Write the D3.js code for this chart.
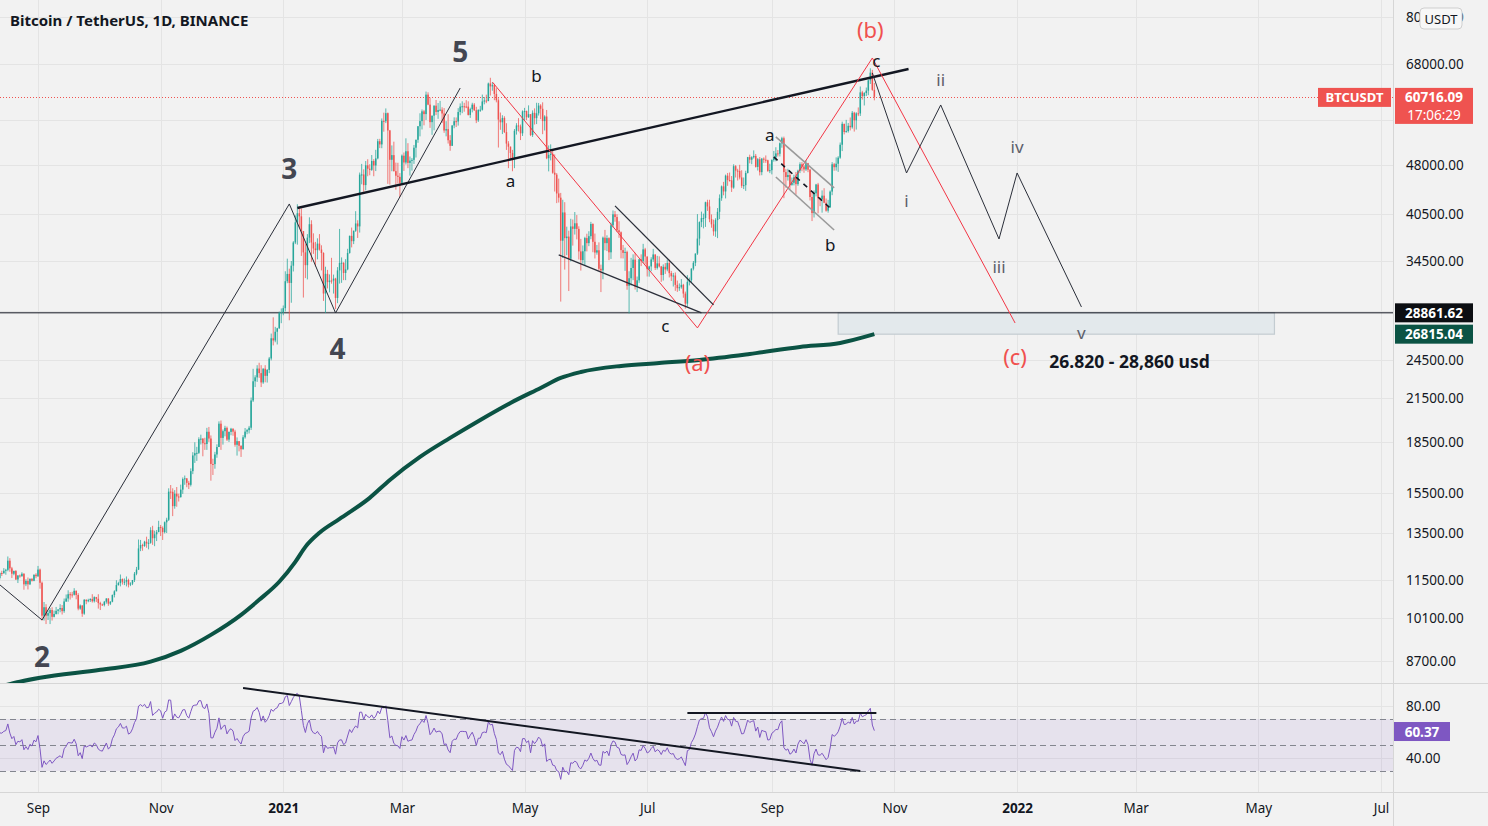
<!DOCTYPE html>
<html><head><meta charset="utf-8">
<script src="https://cdn.jsdelivr.net/npm/d3@7"></script>
<style>
html,body{margin:0;padding:0;background:#f2f2f2;overflow:hidden;}
svg{display:block;font-family:"Noto Sans",sans-serif;}
</style></head><body>
<svg id="chart" width="1488" height="826"></svg>
<script>
// ---------------- DATA (prices in thousands of USDT) ----------------
const title = "Bitcoin / TetherUS, 1D, BINANCE";
const firstDay = "2020-08-12";
const warmupCloses = [11.03,11.10,10.91,11.10,11.11,11.35,11.80,11.07,11.23,11.19,11.75,11.77,11.60,11.75,11.68,11.88,11.40];
const closes = [
 11.58,11.78,11.77,11.87,11.91,12.29,11.97,11.75,11.86,11.52,11.68,11.65,11.75,11.33,11.46,11.33,11.54,11.47,11.71,11.65,
 11.92,11.39,10.17,10.47,10.17,10.26,10.37,10.13,10.23,10.34,10.39,10.44,10.33,10.68,10.79,10.95,10.94,10.93,11.08,10.92,10.42,10.53,10.24,10.74,10.69,10.73,10.77,10.69,10.84,10.78,
 10.62,10.57,10.55,10.67,10.79,10.60,10.67,10.92,11.06,11.30,11.38,11.54,11.43,11.43,11.50,11.32,11.36,11.50,11.75,11.92,12.82,12.97,12.93,13.12,13.04,13.07,13.65,13.28,13.46,13.56,13.80,
 13.76,13.56,14.03,14.15,15.59,15.58,14.83,15.48,15.33,15.30,15.70,16.28,16.32,16.07,15.96,16.73,17.66,17.80,17.82,18.68,18.71,18.42,18.37,19.16,18.72,17.15,17.14,17.72,18.18,19.70,
 18.76,19.20,19.42,18.65,19.15,19.36,19.17,18.32,18.55,18.26,18.04,18.80,19.17,19.27,19.43,21.34,22.80,23.11,23.82,23.45,22.71,23.81,23.23,23.71,24.66,26.44,26.24,27.04,27.36,28.86,28.92,
 29.33,32.18,33.00,31.99,33.95,36.77,39.41,40.67,40.24,38.24,35.54,34.01,37.39,39.16,36.77,36.02,35.82,36.63,35.89,35.47,30.85,33.01,32.08,32.26,32.25,32.47,30.38,33.40,34.27,34.30,33.11,
 33.52,35.47,37.62,36.94,38.29,39.26,38.87,46.45,46.48,44.81,47.97,47.41,47.23,48.69,47.94,49.13,52.12,51.55,55.91,55.84,57.41,54.09,48.89,49.68,47.02,46.28,46.10,45.14,
 49.59,48.44,50.35,48.37,48.75,48.88,50.97,52.38,54.88,55.86,57.77,57.22,61.19,59.12,55.66,56.91,58.91,57.65,58.03,58.10,57.35,54.08,54.34,52.30,51.30,55.03,55.84,55.78,57.63,58.73,58.79,
 58.74,58.72,57.06,58.20,59.12,57.99,56.00,58.06,58.09,59.77,59.96,59.84,63.58,62.96,63.22,61.34,60.01,56.15,55.63,56.47,53.79,51.70,51.15,50.05,49.00,54.02,55.03,54.83,53.56,57.75,
 57.83,56.61,57.21,53.24,57.47,56.43,57.38,58.93,58.28,55.86,56.75,49.15,49.72,49.88,46.76,46.45,43.54,42.91,37.00,40.78,37.33,37.53,34.77,38.86,38.54,39.29,38.53,35.66,34.61,35.68,37.34,
 36.69,37.58,39.19,36.86,35.52,35.80,33.59,33.40,37.39,36.69,37.33,35.55,39.02,40.52,40.14,38.35,38.09,35.82,35.48,35.60,31.68,32.51,33.68,34.66,31.59,32.28,34.70,34.49,35.91,35.04,
 33.54,33.86,34.69,35.29,33.69,34.22,33.86,32.88,33.82,33.51,34.26,33.09,32.73,32.82,31.78,31.42,31.52,31.78,30.84,29.79,32.11,32.29,33.60,34.29,35.40,37.27,39.45,39.99,40.01,42.24,41.63,
 39.85,39.15,38.21,39.72,40.87,42.83,44.61,43.84,46.29,45.60,45.55,44.43,47.83,47.10,47.05,46.00,44.70,44.80,46.72,49.34,48.91,49.32,49.55,47.71,48.99,46.85,49.08,48.90,48.81,47.05,47.17,
 48.85,49.29,49.98,49.92,51.76,52.66,46.86,46.07,46.40,44.85,45.17,46.03,44.96,47.09,48.15,47.77,47.30,48.31,47.25,43.01,40.69,43.56,44.90,42.84,42.70,43.21,42.17,41.03,41.52,43.82,
 48.14,47.66,48.23,49.25,51.49,55.34,53.80,53.97,54.96,54.69,57.49,56.01,57.37,57.35,61.67,60.88,61.53,62.04,64.28,66.00,62.21,60.71609
];
const highs = [
 11.68,11.80,11.87,11.98,11.95,12.47,12.40,12.03,11.88,11.90,11.69,11.72,11.81,11.77,11.53,11.60,11.57,11.58,11.72,11.77,
 12.07,11.96,11.44,10.66,10.58,10.35,10.44,10.47,10.35,10.48,10.40,10.58,10.55,10.79,10.94,11.10,11.03,11.04,11.18,11.09,10.99,10.57,10.55,10.77,10.76,10.78,10.80,10.95,10.87,10.85,
 10.95,10.67,10.60,10.70,10.80,10.80,10.69,10.94,11.10,11.49,11.43,11.72,11.56,11.56,11.64,11.55,11.41,11.49,11.82,12.03,13.22,13.20,13.03,13.16,13.35,13.24,13.79,13.86,13.63,13.66,14.10,
 13.90,13.83,14.07,14.25,15.77,15.95,15.77,15.67,15.84,15.48,15.97,16.37,16.48,16.33,16.18,16.89,17.86,18.48,18.19,18.80,18.97,18.75,18.77,19.42,19.48,18.92,17.46,17.88,18.35,19.86,
 19.92,19.31,19.56,19.51,19.18,19.42,19.39,19.29,18.79,18.56,18.28,18.94,19.41,19.35,19.55,21.56,23.80,23.28,24.10,24.30,24.10,23.84,24.10,23.78,24.79,26.87,28.42,27.50,27.41,28.99,29.30,
 29.60,33.30,34.78,33.60,34.50,36.94,40.37,41.95,41.38,41.35,38.26,36.63,37.85,40.10,39.70,37.95,36.85,37.30,37.85,36.42,35.55,33.83,33.46,32.94,34.88,32.92,32.56,33.78,38.53,34.93,34.34,
 34.72,35.98,37.66,38.71,38.31,40.96,39.70,46.79,48.20,47.31,48.68,48.98,48.15,49.70,49.00,50.60,52.53,52.55,56.37,57.50,58.35,57.53,54.18,51.37,52.04,48.42,48.39,46.70,
 49.79,50.13,52.64,51.77,49.45,49.20,51.45,52.40,54.90,57.39,58.15,58.06,61.84,61.68,60.60,56.94,58.97,60.07,59.45,59.88,58.59,58.42,55.84,57.20,53.23,55.07,56.59,56.56,58.40,59.37,59.80,
 59.49,60.04,59.80,58.50,59.50,59.44,58.68,58.17,58.87,61.20,60.70,61.18,63.78,64.85,63.82,63.52,62.57,60.43,57.53,57.00,56.80,55.45,52.13,51.17,50.59,54.35,55.46,56.43,55.20,57.96,
 58.46,57.92,58.97,57.20,57.96,58.36,59.50,59.46,59.21,59.59,57.00,58.04,51.37,51.56,50.70,49.80,46.70,45.82,43.62,42.60,42.25,38.83,38.30,39.90,39.80,40.84,40.42,38.88,37.23,36.40,37.50,
 37.90,38.23,39.48,39.29,37.92,36.46,36.79,34.07,37.53,38.40,37.69,37.44,39.39,41.06,40.98,40.53,39.56,38.20,36.46,36.12,35.75,33.30,34.88,35.30,35.50,32.70,34.75,35.30,36.60,36.10,
 35.04,33.94,34.95,35.97,35.29,35.12,35.06,33.92,34.10,34.26,34.67,34.65,33.34,33.11,33.17,32.25,31.94,32.42,31.89,31.05,32.86,32.58,33.65,34.50,35.40,40.55,39.54,40.90,40.62,42.32,42.60,
 42.60,40.50,39.78,39.97,41.40,43.39,44.75,45.31,46.46,46.72,46.79,46.23,48.14,48.00,47.40,48.05,47.16,46.00,47.08,49.38,49.76,49.50,50.50,49.88,49.18,49.35,49.20,49.30,49.63,48.91,48.23,
 48.97,50.40,51.05,50.56,51.90,52.92,52.95,47.34,47.40,47.04,45.99,46.45,46.88,47.25,48.47,48.50,48.00,48.80,48.37,47.36,43.64,44.00,45.00,45.15,42.97,44.00,44.33,42.79,42.59,44.00,
 48.50,48.36,49.30,49.50,51.89,55.75,55.34,56.10,55.50,56.56,57.84,57.68,57.60,58.55,62.93,62.00,61.72,62.70,64.49,67.00,66.64,63.70
];
const lows = [
 11.15,11.52,11.66,11.75,11.71,11.85,11.83,11.58,11.69,11.50,11.38,11.59,11.63,11.12,11.26,11.13,11.30,11.44,11.45,11.57,
 11.62,11.16,10.00,10.00,9.88,10.02,9.88,10.00,10.11,10.21,10.22,10.29,10.21,10.27,10.66,10.67,10.75,10.82,10.90,10.76,10.36,10.38,10.13,10.20,10.58,10.65,10.66,10.64,10.64,10.66,
 10.42,10.37,10.52,10.50,10.60,10.52,10.55,10.65,10.83,11.10,11.28,11.25,11.32,11.30,11.25,11.21,11.26,11.30,11.42,11.69,11.90,12.70,12.72,12.89,12.85,12.78,13.03,12.98,12.92,13.15,13.61,
 13.38,13.20,13.50,13.52,14.09,15.20,14.33,14.70,14.80,15.07,15.27,15.47,15.96,15.83,15.73,15.87,16.56,17.21,17.33,17.75,18.34,17.61,18.00,18.00,18.50,16.19,16.51,16.87,17.52,18.18,
 18.00,18.33,18.86,18.56,18.50,18.93,18.90,18.20,17.65,17.91,17.57,18.03,18.71,19.00,19.05,19.28,21.23,22.35,22.75,23.07,22.35,22.60,22.72,22.70,23.45,24.50,25.80,26.08,25.88,27.32,27.85,
 28.62,29.00,31.96,28.13,29.88,33.28,36.57,36.50,38.72,35.11,30.42,32.53,32.38,36.70,34.41,35.36,33.85,34.70,35.76,33.40,30.07,28.85,31.39,30.97,31.91,30.84,29.24,29.84,31.92,32.00,32.30,
 32.30,33.42,35.38,36.16,36.57,38.14,37.35,38.05,44.93,43.80,44.02,46.20,46.35,47.05,46.20,47.03,48.97,50.90,50.88,53.86,55.48,45.00,44.89,47.00,46.94,44.11,45.04,43.00,
 45.00,47.05,48.10,47.50,46.30,47.10,48.20,49.27,51.83,53.00,54.27,55.05,56.08,59.00,54.57,53.27,54.12,57.03,56.30,57.80,55.50,53.65,53.00,51.70,50.43,51.28,54.50,54.73,55.00,57.00,57.40,
 57.70,58.40,56.95,56.48,57.56,57.84,55.47,55.70,57.66,57.92,59.18,59.43,59.84,61.00,62.02,60.03,59.59,51.00,54.21,53.42,53.61,50.58,47.50,49.07,47.00,47.50,53.32,53.90,52.33,53.07,
 56.04,56.04,56.48,53.05,52.90,55.20,55.29,56.94,56.24,53.40,54.08,48.99,46.98,48.79,46.60,43.83,42.11,42.20,30.00,34.86,33.49,35.20,31.11,34.45,36.38,37.79,37.17,34.68,33.38,34.20,34.00,
 35.66,36.31,37.19,35.56,34.80,35.26,33.34,31.00,32.40,35.80,35.70,34.60,34.75,38.73,39.50,38.12,37.37,34.82,34.80,33.35,31.25,28.80,31.70,32.30,31.27,31.00,32.00,33.90,34.26,34.10,
 32.71,32.69,33.31,34.40,33.45,33.50,33.74,32.11,32.26,33.00,33.30,32.60,32.21,31.60,31.13,31.02,31.13,31.36,30.40,29.28,29.48,31.72,32.00,33.40,33.90,35.23,36.40,38.77,38.60,38.80,41.00,
 39.43,38.69,37.64,37.50,37.33,39.86,42.45,43.26,42.80,44.70,45.35,43.77,44.25,46.00,45.52,45.70,44.38,44.20,43.93,46.64,48.30,48.15,49.10,47.60,47.12,46.32,46.36,48.37,48.38,46.90,46.70,
 46.50,48.58,48.63,49.45,49.45,50.97,42.84,44.41,45.51,44.13,44.71,44.76,43.37,44.70,46.70,47.00,46.75,47.05,46.85,42.50,39.59,40.08,43.10,40.66,41.67,40.75,42.10,40.89,40.75,41.42,
 43.28,47.08,47.10,46.90,49.06,50.38,53.36,53.68,53.69,54.09,54.42,53.88,54.25,56.82,56.85,60.15,58.95,60.90,61.08,63.48,62.00,60.00
];
// long moving average, thousands
const maDates = ["2020-08-12","2020-08-23","2020-09-02","2020-10-02","2020-10-27","2020-11-11","2020-11-26","2020-12-11","2020-12-20","2020-12-30","2021-01-07","2021-01-12","2021-01-19","2021-01-29","2021-02-13","2021-02-23","2021-03-10","2021-03-25","2021-04-09","2021-04-24","2021-05-09","2021-05-19","2021-05-29","2021-06-18","2021-07-07","2021-07-27","2021-08-21","2021-09-15","2021-10-05","2021-10-22"];
const maValues = [7.95,8.10,8.21,8.44,8.68,9.01,9.52,10.20,10.74,11.43,12.24,12.89,13.53,14.19,15.26,16.23,17.57,18.76,19.96,21.16,22.28,23.06,23.54,24.04,24.28,24.54,25.05,25.66,26.02,26.81504];

const priceGridTicks = [80000,68000,56000,48000,40500,34500,29000,24500,21500,18500,15500,13500,11500,10100,8700];
const priceLabelTicks = [80000,68000,48000,40500,34500,24500,21500,18500,15500,13500,11500,10100,8700];
const rsiTicks = [80,40];
const rsiLevels = [70,50,30];
const timeTickDates = ["2020-09-01","2020-11-01","2021-01-01","2021-03-01","2021-05-01","2021-07-01","2021-09-01","2021-11-01","2022-01-01","2022-03-01","2022-05-01","2022-07-01"];
const timeTickLabels = ["Sep","Nov","2021","Mar","May","Jul","Sep","Nov","2022","Mar","May","Jul"];

const lastPrice = 60716.09;
const countdown = "17:06:29";
const supportLevel = 28861.62;
const maLast = 26815.04;
const rsiLast = 60.37;

// drawings: [date, price in USDT]
const waveLine = [["2020-08-13",11310],["2020-09-03",10020],["2021-01-04",41990],["2021-01-27",28850],["2021-03-30",62600]];
const trendLine = [["2021-01-08",41410],["2021-11-08",66840]];
const redPath = [["2021-04-15",63900],["2021-07-26",27400],["2021-10-21",69420],["2021-12-31",27870]];
const projPath = [["2021-10-21",65930],["2021-11-07",46720],["2021-11-24",59050],["2021-12-23",37220],["2022-01-01",46720],["2022-02-02",29450]];
const wedgeUpper = [["2021-06-15",41710],["2021-08-03",29660]];
const wedgeLower = [["2021-05-18",35230],["2021-07-28",28850]];
const channelUpper = [["2021-09-03",52890],["2021-10-02",44370]];
const channelLower = [["2021-09-03",46080],["2021-10-02",38390]];
const channelMid = [["2021-09-02",49370],["2021-09-30",41410]];
const targetZone = [["2021-10-04",26815.04],["2022-05-09",28861.62]];
const rsiDown = [["2020-12-12",93.8],["2021-10-15",30]];
const rsiFlat = [["2021-07-21",74.6],["2021-10-23",74.6]];

const waveNums = [["2020-09-03",8850,"2"],["2021-01-04",47530,"3"],["2021-01-28",25570,"4"],["2021-03-30",71110,"5"]];
const letters = [["2021-05-07",65250,"b"],["2021-04-24",45450,"a"],["2021-07-10",27590,"c"],["2021-08-31",53430,"a"],["2021-09-30",36580,"b"],["2021-10-23",68710,"c"]];
const redLabels = [["2021-10-20",76710,"(b)"],["2021-07-26",24370,"(a)"],["2021-12-31",24880,"(c)"]];
const romans = [["2021-11-07",42430,"i"],["2021-11-24",64360,"ii"],["2021-12-23",33800,"iii"],["2022-01-01",51100,"iv"],["2022-02-02",26930,"v"]];
const zoneText = [["2022-01-17",24450,"26.820 - 28,860 usd"]];

// ---------------- CHART ----------------
const W=1488,H=826, axisX=1393, paneBottom=683, rsiTop=684, rsiBottom=792;
const parse = d3.utcParse("%Y-%m-%d");
const svg = d3.select("#chart");
const x = d3.scaleUtc().domain([parse("2020-09-01"), parse("2022-07-01")]).range([38,1381]);
const y = d3.scaleLog().domain([8700,68000]).range([661,64]);
const yR = d3.scaleLinear().domain([40,80]).range([758,706]);
const INK="#131722", BG="#f2f2f2", GRID="#e4e4e4", UP="#26a69a", DN="#ef5350";

const defs = svg.append("defs");
defs.append("clipPath").attr("id","clipP").append("rect").attr("x",0).attr("y",0).attr("width",axisX).attr("height",paneBottom);
defs.append("clipPath").attr("id","clipR").append("rect").attr("x",0).attr("y",rsiTop).attr("width",axisX).attr("height",rsiBottom-rsiTop);

svg.append("rect").attr("width",W).attr("height",H).attr("fill",BG);

const gP = svg.append("g").attr("clip-path","url(#clipP)");
const gR = svg.append("g").attr("clip-path","url(#clipR)");

// grid
gP.selectAll("line.hg").data(priceGridTicks).join("line").attr("class","hg")
  .attr("x1",0).attr("x2",axisX).attr("y1",d=>Math.round(y(d))+0.5).attr("y2",d=>Math.round(y(d))+0.5).attr("stroke",GRID);
[gP,gR].forEach(g=>g.selectAll("line.vg").data(timeTickDates).join("line").attr("class","vg")
  .attr("x1",d=>Math.round(x(parse(d)))+0.5).attr("x2",d=>Math.round(x(parse(d)))+0.5)
  .attr("y1",0).attr("y2",H).attr("stroke",GRID));
gR.selectAll("line.rg").data(rsiTicks).join("line").attr("class","rg")
  .attr("x1",0).attr("x2",axisX).attr("y1",d=>Math.round(yR(d))+0.5).attr("y2",d=>Math.round(yR(d))+0.5).attr("stroke",GRID);

// target zone
gP.append("rect")
  .attr("x",x(parse(targetZone[0][0]))).attr("y",y(targetZone[1][1]))
  .attr("width",x(parse(targetZone[1][0]))-x(parse(targetZone[0][0])))
  .attr("height",y(targetZone[0][1])-y(targetZone[1][1]))
  .attr("fill","#e3e9ec").attr("stroke","#c3ccd1").attr("stroke-width",1.2);

// horizontal support line
gP.append("line").attr("x1",0).attr("x2",axisX).attr("y1",y(supportLevel)).attr("y2",y(supportLevel)).attr("stroke",INK).attr("stroke-width",1);

// current price dotted line
gP.append("line").attr("x1",0).attr("x2",axisX).attr("y1",Math.round(y(lastPrice))+0.5).attr("y2",Math.round(y(lastPrice))+0.5)
  .attr("stroke",DN).attr("stroke-width",1).attr("stroke-dasharray","1,2");

// candles
const day0 = parse(firstDay);
const candles = closes.map((c,i)=>{
  const o = i===0 ? warmupCloses[warmupCloses.length-1] : closes[i-1];
  const hi = Math.max(highs[i],o,c), lo = Math.min(lows[i],o,c);
  return {date:d3.utcDay.offset(day0,i), o:o*1000, c:c*1000, h:hi*1000, l:lo*1000};
});
const cg = gP.append("g");
cg.selectAll("line.wick").data(candles).join("line").attr("class","wick")
  .attr("x1",d=>x(d.date)).attr("x2",d=>x(d.date)).attr("y1",d=>y(d.h)).attr("y2",d=>y(d.l))
  .attr("stroke",d=>d.c>=d.o?UP:DN).attr("stroke-width",0.9).attr("stroke-opacity",0.85);
cg.selectAll("rect.body").data(candles).join("rect").attr("class","body")
  .attr("x",d=>x(d.date)-0.75).attr("width",1.5)
  .attr("y",d=>y(Math.max(d.o,d.c))).attr("height",d=>Math.max(1,Math.abs(y(d.o)-y(d.c))))
  .attr("fill",d=>d.c>=d.o?UP:DN);

// moving average
const maPts = maDates.map((d,i)=>[parse(d), maValues[i]*1000]);
gP.append("path").datum(maPts)
  .attr("d", d3.line().x(d=>x(d[0])).y(d=>y(d[1])).curve(d3.curveMonotoneX))
  .attr("fill","none").attr("stroke","#0b5344").attr("stroke-width",4);

// drawings
const pline = d3.line().x(d=>x(parse(d[0]))).y(d=>y(d[1]));
function draw(g, data, stroke, w, dash){
  const p = g.append("path").datum(data).attr("d",pline).attr("fill","none").attr("stroke",stroke).attr("stroke-width",w).attr("stroke-linejoin","miter");
  if(dash) p.attr("stroke-dasharray",dash);
}
draw(gP, waveLine, "#2a2e39", 1);
draw(gP, trendLine, INK, 2.4);
draw(gP, redPath, "#f23645", 1);
draw(gP, projPath, "#2a2e39", 1);
draw(gP, wedgeUpper, "#2a2e39", 1.3);
draw(gP, wedgeLower, "#2a2e39", 1.3);
draw(gP, channelUpper, "#9a9a9a", 1.6);
draw(gP, channelLower, "#9a9a9a", 1.6);
draw(gP, channelMid, INK, 1.6, "5,5");

// labels
function labels(data, size, weight, fill, anchor){
  gP.append("g").selectAll("text").data(data).join("text")
    .attr("x",d=>x(parse(d[0]))).attr("y",d=>y(d[1]))
    .attr("text-anchor",anchor||"middle").attr("dominant-baseline","central")
    .attr("font-size",size).attr("font-weight",weight).attr("fill",fill).text(d=>d[2]);
}
labels(waveNums, 28, 700, "#434651");
labels(letters, 17, 400, INK);
labels(redLabels, 22, 400, "#f0514f");
labels(romans, 17, 400, "#5d606b");
labels(zoneText, 17.5, 700, INK, "start");

// RSI
const allC = warmupCloses.concat(closes);
const rsi = new Array(allC.length).fill(null);
const N=14; let ag=0, al=0;
for(let i=1;i<allC.length;i++){
  const ch = allC[i]-allC[i-1], g = Math.max(ch,0), l = Math.max(-ch,0);
  if(i<=N){ ag+=g/N; al+=l/N; if(i===N) rsi[i]=100-100/(1+ag/al); }
  else { ag=(ag*(N-1)+g)/N; al=(al*(N-1)+l)/N; rsi[i]=100-100/(1+ag/al); }
}
const rsiPts = candles.map((d,i)=>[d.date, rsi[i+warmupCloses.length]]).filter(d=>d[1]!==null);
gR.append("rect").attr("x",0).attr("width",axisX).attr("y",yR(70)).attr("height",yR(30)-yR(70)).attr("fill","rgba(126,87,194,0.1)");
gR.selectAll("line.lvl").data(rsiLevels).join("line").attr("class","lvl")
  .attr("x1",0).attr("x2",axisX).attr("y1",d=>Math.round(yR(d))+0.5).attr("y2",d=>Math.round(yR(d))+0.5)
  .attr("stroke","#83868f").attr("stroke-dasharray","6,4");
gR.append("path").datum(rsiPts).attr("d",d3.line().x(d=>x(d[0])).y(d=>yR(d[1])))
  .attr("fill","none").attr("stroke","#7e57c2").attr("stroke-width",1);
const rline = d3.line().x(d=>x(parse(d[0]))).y(d=>yR(d[1]));
[rsiDown,rsiFlat].forEach(dat=>gR.append("path").datum(dat).attr("d",rline).attr("fill","none").attr("stroke",INK).attr("stroke-width",2));

// pane separators
svg.append("line").attr("x1",0).attr("x2",W).attr("y1",paneBottom+0.5).attr("y2",paneBottom+0.5).attr("stroke","#d6d6d6");
svg.append("line").attr("x1",0).attr("x2",W).attr("y1",rsiBottom+0.5).attr("y2",rsiBottom+0.5).attr("stroke","#d6d6d6");
svg.append("line").attr("x1",axisX+0.5).attr("x2",axisX+0.5).attr("y1",0).attr("y2",H).attr("stroke","#d6d6d6");

// axes
const axP = svg.append("g").attr("transform",`translate(${axisX},0)`)
  .call(d3.axisRight(y).tickValues(priceLabelTicks).tickFormat(d3.format(".2f")).tickSize(0).tickPadding(13));
const axR = svg.append("g").attr("transform",`translate(${axisX},0)`)
  .call(d3.axisRight(yR).tickValues(rsiTicks).tickFormat(d3.format(".2f")).tickSize(0).tickPadding(13));
const axT = svg.append("g").attr("transform",`translate(0,${rsiBottom})`)
  .call(d3.axisBottom(x).tickValues(timeTickDates.map(parse)).tickFormat((d,i)=>timeTickLabels[i]).tickSize(0).tickPadding(11));
[axP,axR,axT].forEach(a=>{a.select(".domain").remove(); a.selectAll("text").attr("fill",INK).attr("font-family","Noto Sans").attr("font-size",13.5);});
axT.selectAll("text").attr("font-weight",(d,i)=>/^\d{4}$/.test(timeTickLabels[i])?700:400);

// title
svg.append("text").attr("x",10).attr("y",20).attr("dominant-baseline","central")
  .attr("font-size",15).attr("font-weight",700).attr("fill",INK).text(title);

// badges
function badge(x0, yc, w, h, fill, lines, fs){
  const g = svg.append("g");
  g.append("rect").attr("x",x0).attr("y",yc-h/2).attr("width",w).attr("height",h).attr("fill",fill);
  lines.forEach((t,i)=>g.append("text").attr("x",x0+w/2).attr("y",yc-h/2+9.5+i*18).attr("text-anchor","middle")
    .attr("dominant-baseline","central").attr("fill","#fff").attr("font-size",fs||13.5).attr("font-weight",i===0?700:400).text(t));
}
const yl = y(lastPrice);
badge(1318, yl+0.5, 73, 19, "#ef5350", ["BTCUSDT"], 13);
badge(1395, yl+9, 78, 36, "#ef5350", [d3.format(".2f")(lastPrice), countdown]);
badge(1395, y(supportLevel), 78, 19, "#0c0e12", [d3.format(".2f")(supportLevel)]);
badge(1395, y(maLast), 78, 19, "#0b5344", [d3.format(".2f")(maLast)]);
badge(1394, yR(rsiLast), 56, 19, "#7e57c2", [d3.format(".2f")(rsiLast)]);

// currency badge (covers part of the top price label, as in the original)
svg.append("rect").attr("x",1420).attr("y",8).attr("width",42).attr("height",21).attr("rx",4)
  .attr("fill","#f7f7f7").attr("stroke","#cfcfcf");
svg.append("text").attr("x",1441).attr("y",18.5).attr("text-anchor","middle").attr("dominant-baseline","central")
  .attr("font-size",13).attr("fill",INK).text("USDT");
</script>
</body></html>
